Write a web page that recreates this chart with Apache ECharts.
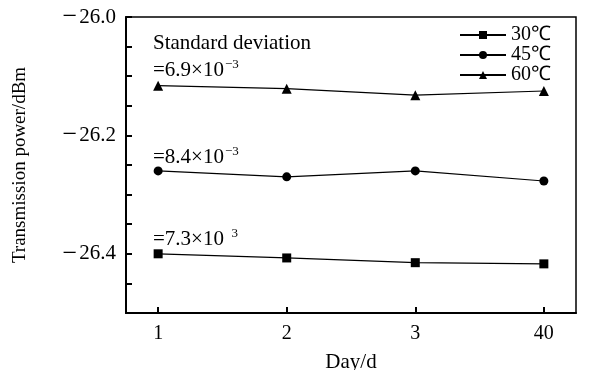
<!DOCTYPE html>
<html>
<head>
<meta charset="utf-8">
<script src="https://cdn.jsdelivr.net/npm/echarts@6/dist/echarts.min.js"></script>
<style>
  html, body { margin: 0; padding: 0; background: #fff; }
  #chart { width: 606px; height: 370px; }
</style>
</head>
<body>
<div id="chart"></div>
<script>
// 横轴标签（天数）
const dayLabels = ['1', '2', '3', '40']
// 各温度下的传输功率 (dBm)
const power30 = [-26.400, -26.407, -26.415, -26.417]
const power45 = [-26.260, -26.270, -26.260, -26.277]
const power60 = [-26.116, -26.121, -26.132, -26.125]
const seriesNames = ['30℃', '45℃', '60℃']
// 纵轴主刻度标签
const yTickLabels = [-26.0, -26.2, -26.4]

const font = 'Liberation Serif, Times New Roman, serif'
const pos = dayLabels.map((d, i) => i + 1)
const toPoints = arr => arr.map((v, i) => [pos[i], v])

const myChart = echarts.init(document.getElementById('chart'))

const lineSeries = (name, data, symbol, size) => ({
  name: name,
  type: 'line',
  data: toPoints(data),
  symbol: symbol,
  symbolSize: size,
  showAllSymbol: true,
  lineStyle: { color: '#000', width: 1.2 },
  itemStyle: { color: '#000' },
  animation: false
})

// 上标文字样式
const supRich = { sup: { fontSize: 13, fontFamily: font, padding: [0, 0, 11, 1] } }

const options = {
  backgroundColor: '#fff',
  grid: {
    left: 126, right: 30, top: 17, bottom: 57,
    outerBoundsMode: 'none',
    show: true,
    borderColor: '#000',
    borderWidth: 1.5
  },
  xAxis: {
    type: 'value',
    min: 0.75,
    max: 4.25,
    name: 'Day/d',
    nameLocation: 'middle',
    nameGap: 39,
    nameTextStyle: { color: '#000', fontFamily: font, fontSize: 21 },
    axisLine: { lineStyle: { color: '#000', width: 2 } },
    axisTick: { inside: true, length: 6, lineStyle: { color: '#000', width: 2 }, customValues: pos },
    axisLabel: {
      color: '#000', fontFamily: font, fontSize: 20, margin: 11,
      customValues: pos,
      formatter: v => dayLabels[Math.round(v) - 1]
    },
    splitLine: { show: false }
  },
  yAxis: {
    type: 'value',
    min: -26.5,
    max: -26.0,
    interval: 0.05,
    name: 'Transmission power/dBm',
    nameLocation: 'middle',
    nameGap: 96,
    nameTextStyle: { color: '#000', fontFamily: font, fontSize: 19 },
    axisLine: { show: true, lineStyle: { color: '#000', width: 2 } },
    axisTick: { inside: true, length: 6, lineStyle: { color: '#000', width: 2 } },
    axisLabel: {
      color: '#000', fontFamily: font, fontSize: 21, margin: 10,
      formatter: v => {
        const hit = yTickLabels.find(t => Math.abs(t - v) < 1e-6)
        return hit === undefined ? '' : '{m|\u2212}' + Math.abs(hit).toFixed(1)
      },
      rich: { m: { fontSize: 26, fontFamily: font, padding: [0, 2, 0, 0] } }
    },
    splitLine: { show: false }
  },
  legend: {
    orient: 'vertical',
    right: 50,
    top: 20,
    itemWidth: 46,
    itemHeight: 10,
    itemGap: 0,
    textStyle: { color: '#000', fontFamily: font, fontSize: 20, lineHeight: 20 },
    data: seriesNames
  },
  graphic: [
    { type: 'text', left: 153, top: 33, style: { text: 'Standard deviation', fill: '#000', font: '21px ' + font } },
    {
      type: 'text', left: 153, top: 58,
      style: { text: '=6.9×10{sup|−3}', fill: '#000', font: '21px ' + font, rich: supRich }
    },
    {
      type: 'text', left: 153, top: 145,
      style: { text: '=8.4×10{sup|−3}', fill: '#000', font: '21px ' + font, rich: supRich }
    },
    {
      type: 'text', left: 153, top: 227,
      style: { text: '=7.3×10{sup|  3}', fill: '#000', font: '21px ' + font, rich: supRich }
    }
  ],
  series: [
    lineSeries(seriesNames[0], power30, 'rect', 9),
    lineSeries(seriesNames[1], power45, 'circle', 9),
    lineSeries(seriesNames[2], power60, 'triangle', 10)
  ]
}

myChart.setOption(options)
</script>
</body>
</html>
